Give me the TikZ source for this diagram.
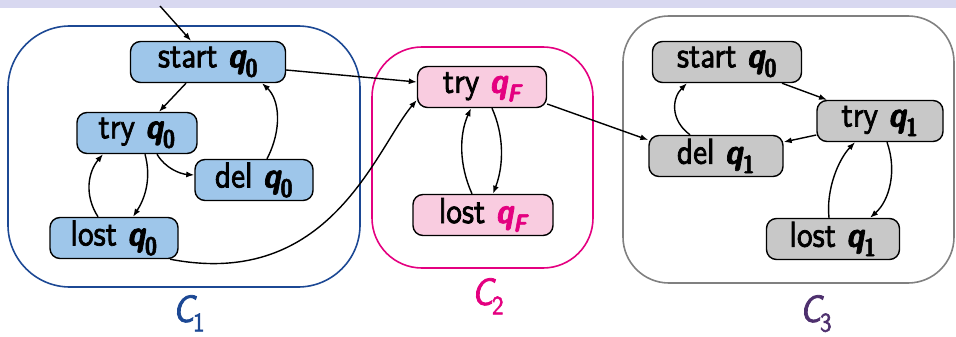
\documentclass[tikz,border=0pt]{standalone}
\usepackage{fontspec}
\setsansfont{lmsans10-regular.otf}[BoldFont=lmsans10-bold.otf, SlantedFont=lmsans10-oblique.otf, BoldSlantedFont=lmsans10-boldoblique.otf, ItalicFont=lmsans10-oblique.otf, BoldItalicFont=lmsans10-boldoblique.otf, FakeStretch=0.87, FakeBold=2]
\usetikzlibrary{arrows.meta}
\definecolor{barcol}{RGB}{216,216,240}
\definecolor{cblue}{RGB}{28,72,148}
\definecolor{nblue}{RGB}{158,198,234}
\definecolor{cmag}{RGB}{228,0,128}
\definecolor{npink}{RGB}{249,204,224}
\definecolor{cgray}{RGB}{128,128,128}
\definecolor{ngray}{RGB}{200,200,200}
\definecolor{cpurple}{RGB}{78,48,110}
\newcommand{\qv}[1]{{\bfseries\slshape q}\textsubscript{\bfseries #1}}
\newcommand{\qf}{\textcolor{cmag}{{\bfseries\slshape q}\textsubscript{\bfseries\slshape F}}}
\newcommand{\cl}[1]{{\slshape C}\kern-1pt\textsubscript{#1}}
\begin{document}
\begin{tikzpicture}[x=1pt,y=-1pt,
  st/.style={draw=black, line width=1.4pt, rounded corners=10pt, inner xsep=3pt, inner ysep=0pt,
    minimum height=41pt, font=\fontsize{36}{42}\selectfont\sffamily},
  bl/.style={st, fill=nblue},
  pk/.style={st, fill=npink},
  gy/.style={st, fill=ngray},
  arr/.style={line width=1.4pt, -{Latex[length=8pt,width=6pt]}},
  lab/.style={font=\fontsize{38}{44}\selectfont\sffamily, anchor=base, inner sep=0pt}]
\useasboundingbox (0,0) rectangle (956,337);
\fill[barcol] (0,0) rectangle (956,8);
% containers
\draw[cblue, line width=1.6pt, rounded corners=62pt] (8,26) rectangle (360,287);
\draw[cmag, line width=1.6pt, rounded corners=50pt] (372,47) rectangle (593,268);
\draw[cgray, line width=1.6pt, rounded corners=46pt] (623,16) rectangle (954,283);
% C1 nodes
\node[bl, minimum width=155pt] (s0) at (208,62) {start \qv{0}};
\node[bl, minimum width=120pt] (t0) at (137,133) {try \qv{0}};
\node[bl, minimum width=118pt] (d0) at (254,180) {del \qv{0}};
\node[bl, minimum width=128pt] (l0) at (114,238) {lost \qv{0}};
% C2 nodes
\node[pk, minimum width=129pt] (tF) at (482,87) {try \qf};
\node[pk, minimum width=140pt] (lF) at (483,215) {lost \qf};
% C3 nodes
\node[gy, minimum width=149pt] (s1) at (727,62) {start \qv{0}};
\node[gy, minimum width=126pt] (t1) at (880,121) {try \qv{1}};
\node[gy, minimum width=134pt] (d1) at (716,156) {del \qv{1}};
\node[gy, minimum width=133pt] (l1) at (833,239) {lost \qv{1}};
% labels
\node[lab, text=cblue] (c1) at (189,322) {\cl{1}};
\node[lab, text=cmag] (c2) at (488,305) {\cl{2}};
\node[lab, text=cpurple] (c3) at (816,322) {\cl{3}};
% edges C1
\coordinate (init) at (160,6);
\draw[arr] (init) -- ([xshift=-17pt]s0.north);
\draw[arr] ([xshift=-22pt]s0.south) -- ([xshift=22pt]t0.north);
\draw[arr] ([xshift=20pt]t0.south) .. controls (165,168) and (180,174) .. ([yshift=5pt]d0.west);
\draw[arr] ([xshift=13pt]d0.north) .. controls (282,130) and (280,100) .. ([xshift=54pt]s0.south);
\draw[arr] ([xshift=8pt]t0.south) .. controls (152,180) and (144,200) .. ([xshift=19pt]l0.north);
\draw[arr] ([xshift=-16pt]l0.north) .. controls (84,195) and (88,172) .. ([xshift=-34pt]t0.south);
\draw[arr] ([yshift=-8pt]s0.east) -- ([yshift=5pt]tF.west);
\draw[arr] ([xshift=56pt]l0.south) .. controls (330,290) and (375,150) .. ([yshift=-13pt]tF.west);
% edges C2
\draw[arr] ([xshift=10pt]tF.south) .. controls (504,135) and (504,165) .. ([xshift=10pt]lF.north);
\draw[arr] ([xshift=-11pt]lF.north) .. controls (459,165) and (459,135) .. ([xshift=-11pt]tF.south);
\draw[arr] ([yshift=-17pt]tF.east) -- ([yshift=16pt]d1.west);
% edges C3
\draw[arr] ([xshift=55pt]s1.south) -- ([xshift=-53pt]t1.north);
\draw[arr] ([yshift=-14pt]t1.west) -- ([yshift=14pt]d1.east);
\draw[arr] ([xshift=-26pt]d1.north) .. controls (670,120) and (672,98) .. ([xshift=-40pt]s1.south);
\draw[arr] ([xshift=7pt]t1.south) .. controls (897,170) and (890,200) .. ([xshift=37pt]l1.north);
\draw[arr] ([xshift=-4pt]l1.north) .. controls (826,190) and (838,160) .. ([xshift=-25pt]t1.south);
\end{tikzpicture}
\end{document}
